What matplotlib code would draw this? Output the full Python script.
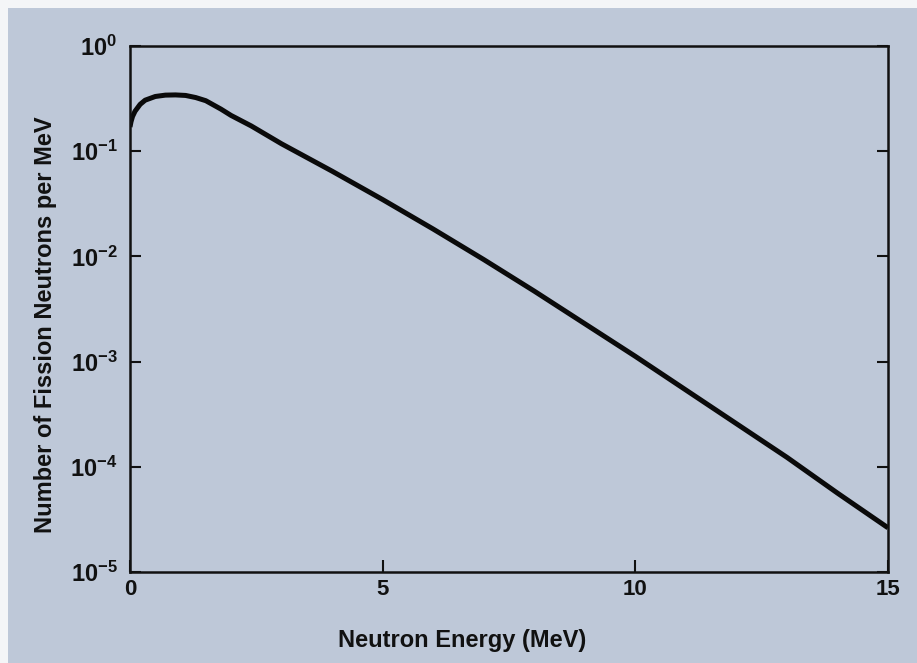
import matplotlib
matplotlib.use("Agg")
import matplotlib.pyplot as plt
from matplotlib.patches import Rectangle
from matplotlib.ticker import NullLocator

# Data (energy in MeV, log10 of neutrons per MeV)
energy = [0.0, 0.02, 0.05, 0.1, 0.2, 0.3, 0.5, 0.7, 0.9, 1.1, 1.3, 1.5, 1.8,
          2.0, 2.4, 3.0, 3.5, 4.0, 4.5, 5.0, 6.0, 7.0, 8.0, 9.0, 10.0, 11.0,
          12.0, 13.0, 14.0, 15.0]
log_spectrum = [-0.77, -0.72, -0.67, -0.62, -0.555, -0.515, -0.48, -0.467,
                -0.465, -0.47, -0.49, -0.52, -0.60, -0.66, -0.76, -0.93, -1.06,
                -1.19, -1.325, -1.46, -1.74, -2.03, -2.33, -2.64, -2.95, -3.27,
                -3.59, -3.91, -4.25, -4.58]
spectrum = [10 ** v for v in log_spectrum]

x_ticks = [0, 5, 10, 15]
y_ticks = [1e0, 1e-1, 1e-2, 1e-3, 1e-4, 1e-5]
y_tick_labels = [r"$\mathbf{10^{0}}$", r"$\mathbf{10^{-1}}$", r"$\mathbf{10^{-2}}$",
                 r"$\mathbf{10^{-3}}$", r"$\mathbf{10^{-4}}$", r"$\mathbf{10^{-5}}$"]

plt.rcParams['font.family'] = ['Liberation Sans', 'DejaVu Sans']
plt.rcParams['mathtext.fontset'] = 'custom'
plt.rcParams['mathtext.bf'] = 'Liberation Sans:bold'
plt.rcParams['mathtext.rm'] = 'Liberation Sans'

bg = '#bec8d8'
ink = '#111111'
fig = plt.figure(figsize=(9.17, 6.63), dpi=100, facecolor='#f4f5f7')
fig.patches.append(Rectangle((8 / 917, 0), 1, 1 - 8 / 663, transform=fig.transFigure,
                             facecolor=bg, edgecolor='none', zorder=-10))

ax = fig.add_axes([130 / 917, (663 - 572) / 663, (888 - 130) / 917, (572 - 46) / 663])
ax.set_facecolor(bg)

ax.plot(energy, spectrum, color='#0a0a0a', lw=3.6, solid_capstyle='butt',
        solid_joinstyle='round')

ax.set_yscale('log')
ax.set_xlim(0, 15)
ax.set_ylim(1e-5, 1e0)

ax.set_xticks(x_ticks)
ax.set_xticklabels([str(t) for t in x_ticks], fontsize=16, fontweight='bold')
ax.set_yticks(y_ticks)
ax.set_yticklabels(y_tick_labels, fontsize=17)
ax.yaxis.set_minor_locator(NullLocator())

ax.tick_params(axis='y', which='major', direction='in', length=8, width=1.5,
               left=True, right=True, pad=9, colors=ink)
ax.tick_params(axis='x', which='major', direction='in', length=9, width=1.5,
               top=False, bottom=True, pad=5, colors=ink)

for s in ax.spines.values():
    s.set_linewidth(1.8)
    s.set_color(ink)

ax.set_xlabel('Neutron Energy (MeV)', fontsize=17, fontweight='bold', color=ink)
ax.set_ylabel('Number of Fission Neutrons per MeV', fontsize=17, fontweight='bold',
              color=ink)
ax.xaxis.set_label_coords(0.438, -0.108)
ax.yaxis.set_label_coords(-0.096, 0.47)

fig.savefig('out.png', dpi=100, facecolor=fig.get_facecolor())
